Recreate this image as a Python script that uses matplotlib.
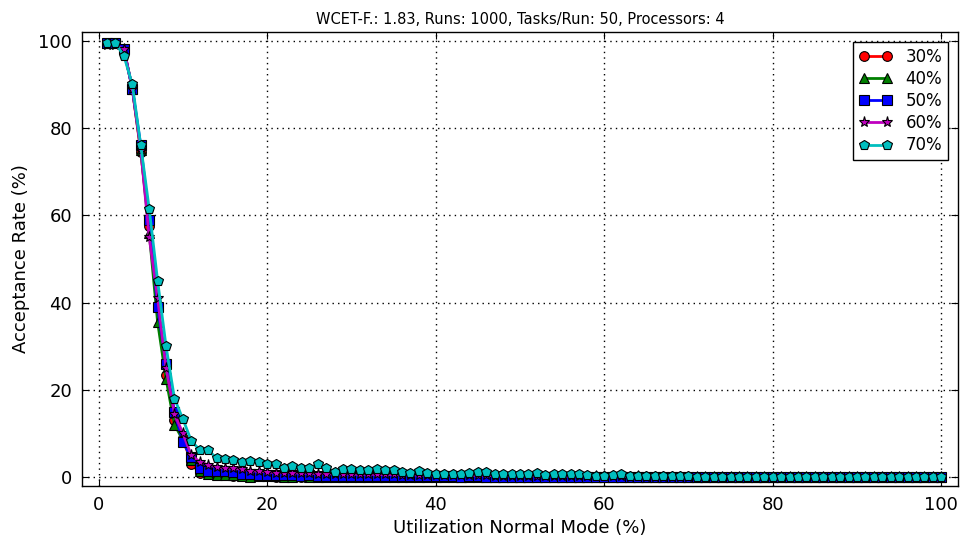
import matplotlib
matplotlib.use("Agg")
import matplotlib.pyplot as plt

x = list(range(1, 101))

r30 = [99.5, 99.5, 98.0, 89.0, 74.5, 57.5, 39.0, 23.5, 13.0, 9.0,
       3.0, 1.0, 0.7, 0.5, 0.4, 0.3, 0.3, 0.2, 0.2, 0.2,
       0.1, 0.2, 0.1, 0.1, 0.1, 0.1, 0.0, 0.1, 0.0, 0.1,
       0.0, 0.1, 0.0, 0.0, 0.1, 0.0, 0.0, 0.0, 0.0, 0.0,
       0.0, 0.0, 0.0, 0.0, 0.0, 0.0, 0.0, 0.0, 0.0, 0.0,
       0.0, 0.0, 0.0, 0.0, 0.0, 0.0, 0.0, 0.0, 0.0, 0.0,
       0.0, 0.0, 0.0, 0.0, 0.0, 0.0, 0.0, 0.0, 0.0, 0.0,
       0.0, 0.0, 0.0, 0.0, 0.0, 0.0, 0.0, 0.0, 0.0, 0.0,
       0.0, 0.0, 0.0, 0.0, 0.0, 0.0, 0.0, 0.0, 0.0, 0.0,
       0.0, 0.0, 0.0, 0.0, 0.0, 0.0, 0.0, 0.0, 0.0, 0.0]

r40 = [99.5, 99.5, 98.0, 89.0, 75.0, 56.0, 35.5, 22.5, 12.0, 8.5,
       4.0, 1.5, 0.8, 0.5, 0.5, 0.4, 0.3, 0.0, 0.2, 0.2,
       0.2, 0.1, 0.1, 0.2, 0.1, 0.1, 0.1, 0.0, 0.1, 0.1,
       0.0, 0.0, 0.1, 0.0, 0.0, 0.0, 0.1, 0.0, 0.0, 0.0,
       0.0, 0.0, 0.0, 0.0, 0.0, 0.0, 0.0, 0.0, 0.0, 0.0,
       0.0, 0.0, 0.0, 0.0, 0.0, 0.0, 0.0, 0.0, 0.0, 0.0,
       0.0, 0.0, 0.0, 0.0, 0.0, 0.0, 0.0, 0.0, 0.0, 0.0,
       0.0, 0.0, 0.0, 0.0, 0.0, 0.0, 0.0, 0.0, 0.0, 0.0,
       0.0, 0.0, 0.0, 0.0, 0.0, 0.0, 0.0, 0.0, 0.0, 0.0,
       0.0, 0.0, 0.0, 0.0, 0.0, 0.0, 0.0, 0.0, 0.0, 0.0]

r50 = [99.5, 99.5, 98.0, 89.0, 76.0, 59.0, 39.0, 26.0, 15.0, 8.0,
       4.5, 2.0, 1.5, 1.3, 1.5, 1.2, 0.8, 0.7, 0.5, 0.5,
       0.5, 0.4, 0.4, 0.3, 0.4, 0.3, 0.3, 0.2, 0.3, 0.3,
       0.2, 0.2, 0.2, 0.3, 0.2, 0.2, 0.2, 0.2, 0.2, 0.2,
       0.2, 0.2, 0.1, 0.2, 0.2, 0.1, 0.1, 0.1, 0.1, 0.1,
       0.1, 0.1, 0.1, 0.1, 0.1, 0.1, 0.1, 0.1, 0.1, 0.1,
       0.1, 0.1, 0.0, 0.1, 0.0, 0.1, 0.0, 0.0, 0.0, 0.0,
       0.0, 0.0, 0.0, 0.0, 0.0, 0.0, 0.0, 0.0, 0.0, 0.0,
       0.0, 0.0, 0.0, 0.0, 0.0, 0.0, 0.0, 0.0, 0.0, 0.0,
       0.0, 0.0, 0.0, 0.0, 0.0, 0.0, 0.0, 0.0, 0.0, 0.0]

r60 = [99.0, 99.0, 98.0, 89.0, 75.0, 55.0, 41.0, 25.0, 14.5, 10.0,
       5.0, 3.5, 2.8, 2.3, 2.0, 2.0, 1.8, 1.5, 1.3, 1.2,
       1.0, 1.0, 1.0, 0.9, 0.9, 0.8, 0.8, 0.7, 0.7, 0.7,
       0.6, 0.7, 0.6, 0.6, 0.6, 0.5, 0.5, 0.5, 0.4, 0.5,
       0.4, 0.4, 0.4, 0.4, 0.4, 0.4, 0.3, 0.3, 0.3, 0.3,
       0.3, 0.3, 0.2, 0.3, 0.2, 0.2, 0.2, 0.2, 0.2, 0.2,
       0.2, 0.2, 0.1, 0.2, 0.1, 0.1, 0.1, 0.1, 0.1, 0.1,
       0.1, 0.0, 0.1, 0.0, 0.0, 0.0, 0.0, 0.0, 0.0, 0.0,
       0.0, 0.0, 0.0, 0.0, 0.0, 0.0, 0.0, 0.0, 0.0, 0.0,
       0.0, 0.0, 0.0, 0.0, 0.0, 0.0, 0.0, 0.0, 0.0, 0.0]

r70 = [99.5, 99.5, 96.5, 90.0, 76.0, 61.5, 45.0, 30.0, 18.0, 13.3,
       8.3, 6.2, 6.2, 4.3, 4.1, 3.9, 3.4, 3.7, 3.4, 2.9,
       3.1, 2.0, 2.5, 2.0, 2.0, 3.0, 2.0, 1.2, 1.8, 1.8,
       1.6, 1.6, 1.8, 1.6, 1.6, 1.1, 0.9, 1.4, 0.9, 0.7,
       0.8, 0.7, 0.6, 1.0, 1.1, 1.1, 0.6, 0.8, 0.6, 0.6,
       0.8, 1.0, 0.4, 0.6, 0.7, 0.6, 0.6, 0.5, 0.3, 0.3,
       0.5, 0.7, 0.2, 0.2, 0.3, 0.2, 0.2, 0.3, 0.2, 0.2,
       0.1, 0.1, 0.1, 0.1, 0.1, 0.1, 0.1, 0.1, 0.0, 0.1,
       0.0, 0.0, 0.0, 0.0, 0.0, 0.0, 0.0, 0.0, 0.0, 0.0,
       0.0, 0.0, 0.0, 0.0, 0.0, 0.0, 0.0, 0.0, 0.0, 0.0]

labels = ["30%", "40%", "50%", "60%", "70%"]
series = [r30, r40, r50, r60, r70]
colors = [(1, 0, 0), (0, 0.5, 0), (0, 0, 1), (0.75, 0, 0.75), (0, 0.75, 0.75)]
markers = ["o", "^", "s", "*", "p"]

title = "WCET-F.: 1.83, Runs: 1000, Tasks/Run: 50, Processors: 4"
xlabel = "Utilization Normal Mode (%)"
ylabel = "Acceptance Rate (%)"

plt.rcParams["font.family"] = "DejaVu Sans"
fig = plt.figure(figsize=(9.62, 5.41), dpi=100)
ax = fig.add_axes([0.085, 0.102, 0.911, 0.839])

for ys, lab, c, m in zip(series, labels, colors, markers):
    ax.plot(x, ys, color=c, marker=m, markersize=7 if m != "*" else 8,
            markeredgecolor="black", markeredgewidth=0.8, linewidth=2, label=lab)

ax.set_xlim(-2, 102)
ax.set_ylim(-2, 102)
ax.set_xticks([0, 20, 40, 60, 80, 100])
ax.set_yticks([0, 20, 40, 60, 80, 100])
ax.grid(True, color="black", linestyle=(0, (1, 3)), linewidth=1)
ax.tick_params(direction="in", top=True, right=True, labelsize=13, length=5, pad=7)
for s in ax.spines.values():
    s.set_linewidth(1.0)
ax.set_title(title, fontsize=10.5)
ax.set_xlabel(xlabel, fontsize=13, labelpad=4)
ax.set_ylabel(ylabel, fontsize=13, labelpad=6)
leg = ax.legend(loc="upper right", numpoints=2, fontsize=12, fancybox=False,
                framealpha=1, edgecolor="black", handlelength=2.0,
                borderpad=0.35, labelspacing=0.25, borderaxespad=0.6)
leg.get_frame().set_linewidth(1.0)

fig.savefig("out.png", dpi=100)
